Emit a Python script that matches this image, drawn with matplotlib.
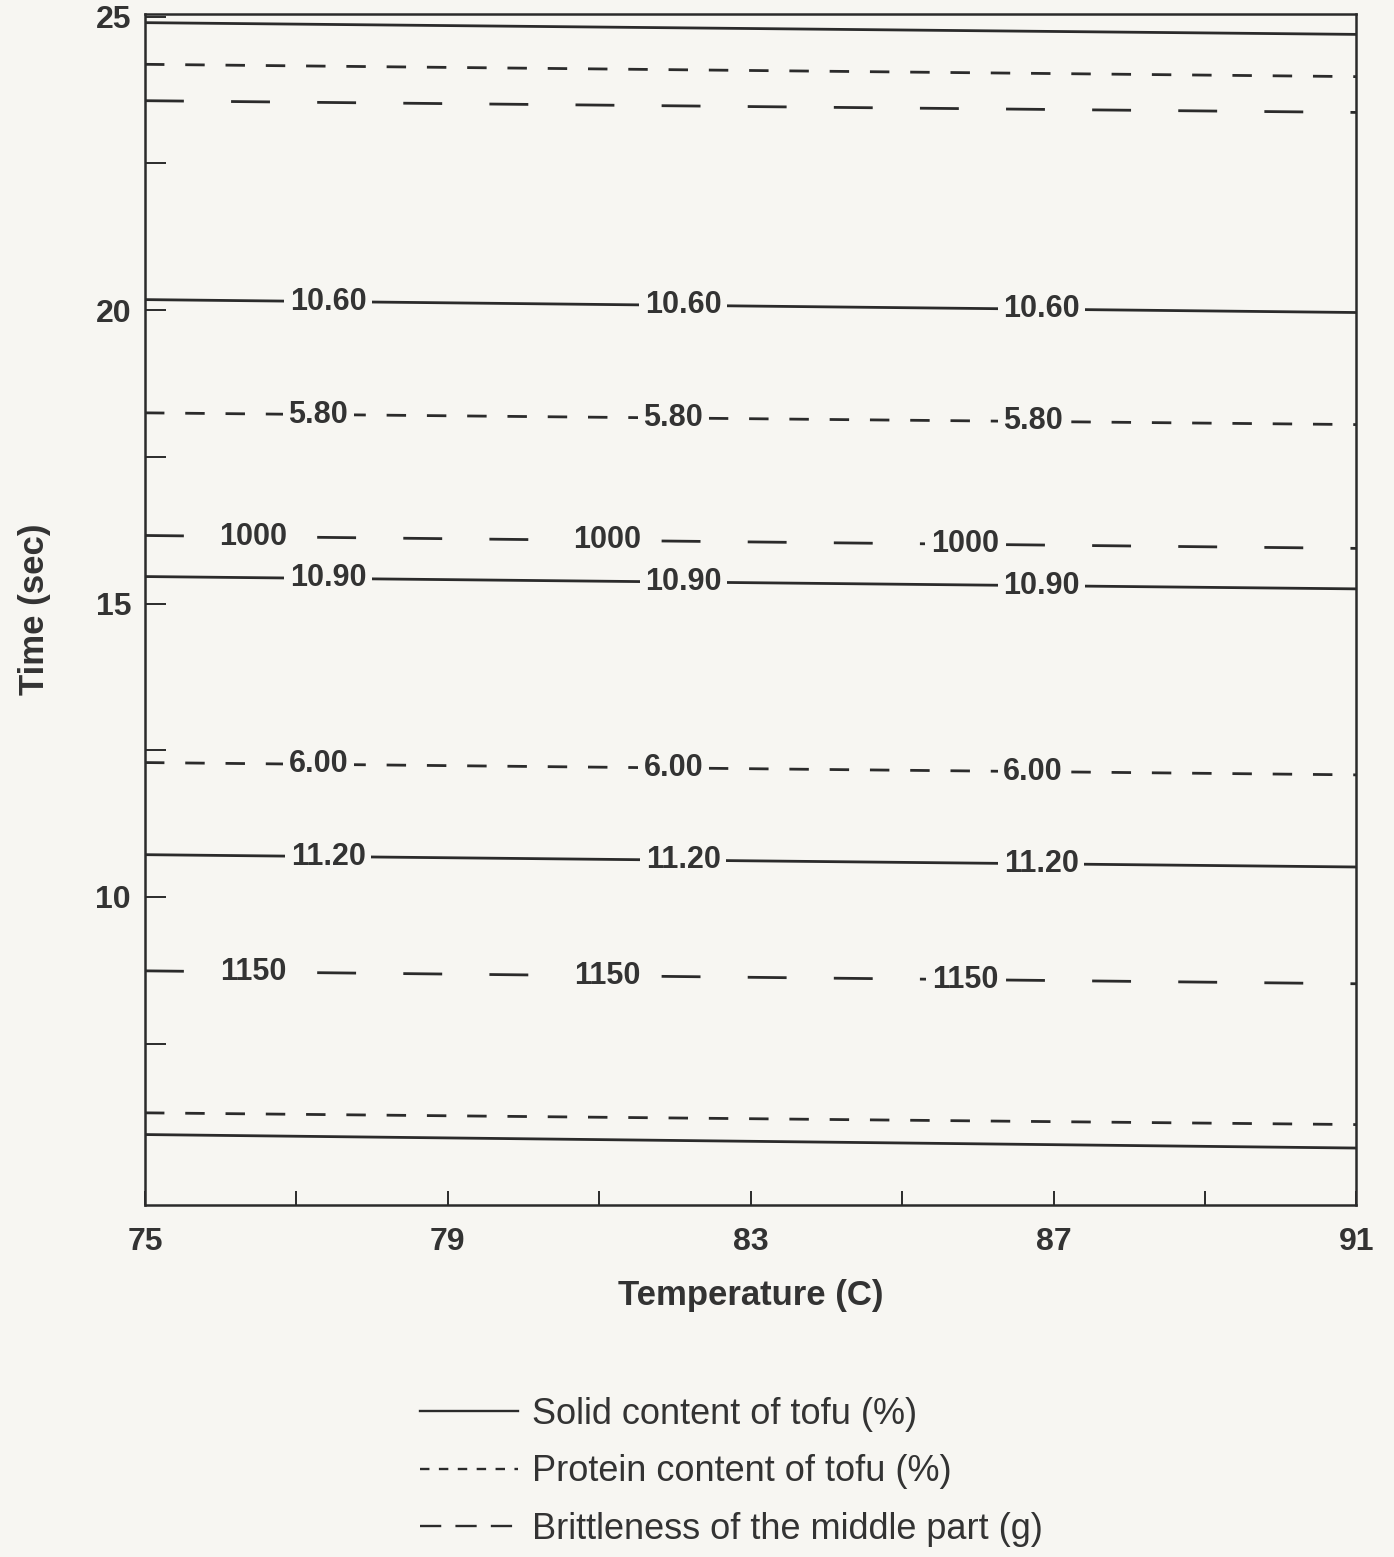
import numpy as np
import matplotlib.pyplot as plt
from matplotlib.lines import Line2D

plt.rcParams['font.family'] = ['Liberation Sans', 'DejaVu Sans']

# contour lines: value at T=75 and at T=91
temps = [75, 91]

solid_left = [24.90, 20.18, 15.46, 10.72, 5.95]
solid_right = [24.70, 19.96, 15.25, 10.51, 5.72]
solid_labels = [None, '10.60', '10.90', '11.20', None]
solid_label_x = [77.42, 82.11, 86.84]

protein_left = [24.19, 18.25, 12.29, 6.32]
protein_right = [23.98, 18.05, 12.08, 6.12]
protein_labels = [None, '5.80', '6.00', None]
protein_label_x = [77.29, 81.98, 86.73]

brittle_left = [23.57, 16.16, 8.74]
brittle_right = [23.37, 15.94, 8.52]
brittle_labels = [None, '1000', '1150']
brittle_label_x = [76.43, 81.10, 85.83]

bg = '#f7f6f2'
ink = '#2b2b2b'

fig = plt.figure(figsize=(13.94, 15.57), dpi=100, facecolor=bg)
ax = fig.add_axes([0.104, 0.2261, 0.869, 0.765], facecolor=bg)

lw = 2.0
styles = {
    'solid': '-',
    'protein': (0, (7, 7.5)),
    'brittle': (0, (14, 17)),
}


def draw_set(lefts, rights, labels, label_x, ls):
    for yl, yr, lab in zip(lefts, rights, labels):
        ax.plot(temps, [yl, yr], color=ink, lw=lw, linestyle=ls)
        if lab is None:
            continue
        for x in label_x:
            y = np.interp(x, temps, [yl, yr])
            ax.text(x, y, lab, ha='center', va='center', fontsize=22,
                    fontweight='bold', color='#333333', zorder=3,
                    bbox=dict(facecolor=bg, edgecolor='none', pad=4))


draw_set(solid_left, solid_right, solid_labels, solid_label_x, styles['solid'])
draw_set(protein_left, protein_right, protein_labels, protein_label_x, styles['protein'])
draw_set(brittle_left, brittle_right, brittle_labels, brittle_label_x, styles['brittle'])

ax.set_xlim(75, 91)
ax.set_ylim(4.75, 25.05)

ax.set_xticks(range(75, 92, 2))
ax.set_xticklabels([str(t) if (t - 75) % 4 == 0 else '' for t in range(75, 92, 2)])
ax.set_yticks([10, 15, 20, 25])
ax.set_yticks([7.5, 12.5, 17.5, 22.5], minor=True)

ax.tick_params(axis='x', direction='in', length=10, width=1.4, color=ink,
               labelsize=23, pad=16, labelcolor='#333333')
ax.tick_params(axis='y', which='both', direction='in', length=15, width=1.4,
               color=ink, labelsize=23, pad=10, labelcolor='#333333')
for lab in ax.get_xticklabels() + ax.get_yticklabels():
    lab.set_fontweight('bold')

for sp in ax.spines.values():
    sp.set_linewidth(1.8)
    sp.set_color(ink)

ax.set_xlabel('Temperature (C)', fontsize=25, fontweight='bold', color='#333333', labelpad=16)
ax.set_ylabel('Time (sec)', fontsize=25, fontweight='bold', color='#333333', labelpad=32)

handles = [
    Line2D([], [], color=ink, lw=1.7, linestyle='-'),
    Line2D([], [], color=ink, lw=1.7, linestyle=(0, (4, 4))),
    Line2D([], [], color=ink, lw=1.7, linestyle=(0, (9, 6))),
]
names = ['Solid content of tofu (%)', 'Protein content of tofu (%)',
         'Brittleness of the middle part (g)']
fig.legend(handles, names, loc='upper center', bbox_to_anchor=(0.525, 0.119),
           frameon=False, fontsize=26, handlelength=2.7, handletextpad=0.4,
           labelspacing=0.62, labelcolor='#333333', borderpad=0.2)

fig.savefig('out.png', dpi=100, facecolor=bg)
